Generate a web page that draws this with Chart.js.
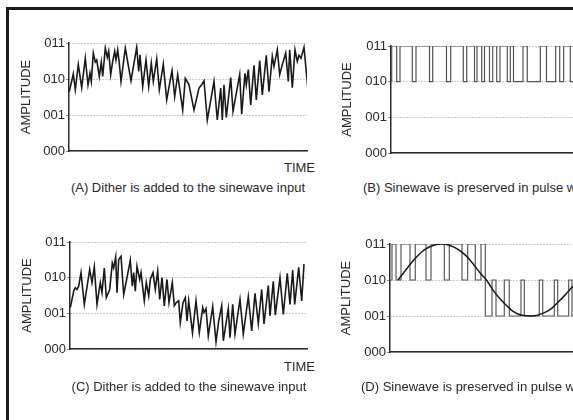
<!DOCTYPE html>
<html>
<head>
<meta charset="utf-8">
<script src="https://cdn.jsdelivr.net/npm/chart.js@4.4.0/dist/chart.umd.min.js"></script>
<style>
  html, body { margin: 0; padding: 0; width: 573px; height: 420px; overflow: hidden; background: #fff; }
  body { position: relative; font-family: "Liberation Sans", Arial, sans-serif; color: #2a2a2a; }
  .frame { position: absolute; left: 6px; top: 7px; width: 640px; height: 440px;
           border-top: 3px solid #1a1a1a; border-left: 3px solid #1a1a1a; }
  canvas { position: absolute; }
  .txt { position: absolute; font-size: 13px; line-height: 16px; white-space: nowrap; }
</style>
</head>
<body>
<div class="frame"></div>
<canvas id="chartA" style="left:0;top:20px" width="312" height="140"></canvas>
<canvas id="chartB" style="left:320px;top:20px" width="330" height="143"></canvas>
<canvas id="chartC" style="left:0;top:220px" width="312" height="140"></canvas>
<canvas id="chartD" style="left:320px;top:220px" width="330" height="143"></canvas>

<div class="txt" style="left:265px;top:160px;width:50px;text-align:right">TIME</div>
<div class="txt" style="left:265px;top:359px;width:50px;text-align:right">TIME</div>
<div class="txt" style="left:60px;top:180px;width:256px;text-align:center">(A) Dither is added to the sinewave input</div>
<div class="txt" style="left:363px;top:180px">(B) Sinewave is preserved in pulse width</div>
<div class="txt" style="left:61px;top:379px;width:256px;text-align:center">(C) Dither is added to the sinewave input</div>
<div class="txt" style="left:361px;top:379px">(D) Sinewave is preserved in pulse width</div>

<script>
// amplitude tick labels (binary codes)
var ampTicks = ['000', '001', '010', '011'];

// (A) dithered sinewave, time / amplitude
var ditherATime = [0.3, 4.3, 6.3, 9.3, 12.7, 16.3, 19, 21, 22.3, 24.3, 26.3, 27.7, 30.3, 32.3, 33.7,
    36.3, 38.3, 39.7, 41.7, 43.7, 45.7, 47, 48.7, 50.3, 52, 56.3, 62, 67.7, 69.7, 71, 73.7, 77,
    79.7, 82.3, 84.3, 87.7, 90.3, 94.3, 97.7, 103, 105.7, 108.7, 113.7, 116.3, 120, 125, 130,
    132.7, 135, 138.3, 145, 148.3, 151.7, 153.3, 155, 157.3, 161.7, 164, 170.7, 172.7, 176,
    177.3, 179.3, 181.7, 185, 187.3, 190.7, 193.3, 197.3, 200, 203.3, 205, 208.3, 210.7, 213.3,
    216.7, 219.3, 220.7, 223.3, 226, 228.3, 230, 232, 235, 238.7];
var ditherAAmp = [1.65, 2.14, 1.70, 2.40, 1.76, 2.58, 1.84, 2.16, 1.93, 2.72, 2.47, 2.53, 2.07, 2.47, 2.07,
    2.86, 2.60, 2.77, 2.12, 2.49, 2.77, 2.53, 2.81, 2.44, 1.93, 2.86, 1.95, 2.88, 2.21, 2.67, 1.79, 2.53,
    1.79, 2.44, 1.93, 2.56, 1.70, 2.41, 1.42, 2.23, 1.51, 2.12, 1.14, 2.02, 1.84, 1.14, 1.75,
    1.84, 1.95, 0.86, 1.93, 0.86, 1.75, 0.86, 1.84, 0.93, 2.04, 1.10, 2.12, 1.02, 2.16,
    1.84, 2.26, 1.28, 2.38, 1.42, 2.51, 1.56, 2.66, 1.65, 2.63, 2.35, 2.81, 2.12, 2.40,
    2.72, 1.93, 2.81, 1.76, 2.81, 2.49, 2.66, 2.58, 2.88, 1.79];

// (C) dithered sinewave, time / amplitude
var ditherCTime = [0.3, 3.7, 5.3, 7, 8.7, 11, 14.3, 19.7, 22, 24.3, 27, 30.3, 32, 34.3, 36.3, 39.7,
    42.3, 43.7, 45.7, 47, 48.7, 51, 53.7, 56.3, 60.3, 62.3, 63.7, 65.3, 67, 69.7, 71, 74.3, 76.3,
    78.7, 80.3, 83, 85.3, 87.7, 89.7, 92, 94.3, 97, 99, 102.3, 104.3, 106.3, 108.7, 110.3, 113,
    115.3, 117, 118.7, 122.5, 126, 129.3, 132.7, 134, 136, 138.3, 142.7, 146, 148.7, 151.7, 153.3,
    158.3, 160, 162.7, 165, 170, 173.3, 178.3, 181.7, 185, 188.3, 191.7, 194, 198.3, 200, 203.3,
    205.3, 210, 213.3, 217.3, 220, 222.7, 224.7, 228.7, 231.7, 234];
var ditherCAmp = [1.16, 1.62, 1.72, 1.67, 1.76, 2.14, 1.25, 2.23, 1.86, 2.30, 1.25, 1.86, 1.58, 2.27, 1.44, 1.67,
    2.41, 2.27, 2.58, 1.58, 2.51, 2.60, 1.53, 1.90, 2.49, 1.76, 2.14, 1.62, 2.32, 1.95, 2.14, 1.35, 1.86,
    1.49, 1.95, 2.14, 1.67, 2.18, 1.39, 2.00, 1.21, 1.95, 1.30, 1.86, 1.21, 1.30, 1.35, 0.74, 1.30,
    1.44, 0.79, 1.35, 0.45, 1.35, 0.46, 1.16, 1.02, 1.13, 0.37, 1.19, 0.20, 0.79, 1.21, 0.23,
    1.13, 0.32, 1.25, 0.42, 1.39, 0.42, 1.47, 0.51, 1.56, 0.72, 1.67, 0.70, 1.78, 0.93, 1.90,
    0.95, 2.00, 0.97, 2.12, 1.25, 2.21, 1.25, 2.29, 1.35, 2.38];

// (B) pulse width output: edge times and the level that starts there
var pwmBTime = [0, 0.7, 5.7, 9, 21.3, 25, 38.5, 41.7, 55.5, 59.7, 72.3, 75.7, 83.5, 86, 90.7, 93.5,
    98.5, 101.7, 105.7, 109, 116.3, 119.3, 122.5, 132, 136.3, 149.3, 155.5, 164.7, 168.7, 172.7,
    179.3, 186];
var pwmBLevel = [2, 3, 2, 3, 2, 3, 2, 3, 2, 3, 2, 3, 2, 3, 2, 3,
    2, 3, 2, 3, 2, 3, 2, 3, 2, 3, 2, 3, 2, 3,
    2, 2];

// (D) pulse width output and the recovered sinewave
var pwmDTime = [0, 2, 6, 11, 20, 25.3, 36, 41, 54.3, 59.3, 72, 77.7, 85.3, 91, 95.3, 102, 106,
    114.3, 119.3, 131, 134.3, 149.3, 152.7, 164.3, 167.7, 178.7, 182, 186];
var pwmDLevel = [2, 3, 2, 3, 2, 3, 2, 3, 2, 3, 2, 3, 2, 3, 1, 2, 1,
    2, 1, 2, 1, 2, 1, 2, 1, 2, 1, 1];
var sineDTime = [8, 15, 22, 28, 35, 43, 52, 60, 68, 77, 83, 90, 97, 103, 110, 117, 123, 132, 142,
    155, 162, 168, 175, 182, 186];
var sineDAmp = [2.0, 2.25, 2.5, 2.68, 2.85, 2.96, 3.0, 2.96, 2.85, 2.65, 2.45, 2.2, 1.98, 1.72, 1.48,
    1.28, 1.13, 1.02, 1.0, 1.1, 1.22, 1.38, 1.58, 1.8, 1.9];

var FONT = '"Liberation Sans", Arial, sans-serif';
var INK = '#2a2a2a';

function points(xs, ys) {
    return xs.map(function (x, i) { return { x: x, y: ys[i] }; });
}

function panelOptions(pad, axisWidth, xMax) {
    return {
        responsive: false,
        animation: false,
        layout: { padding: pad },
        plugins: { legend: { display: false }, tooltip: { enabled: false } },
        elements: { point: { radius: 0 } },
        scales: {
            x: {
                type: 'linear', min: 0, max: xMax,
                ticks: { display: false },
                grid: { display: false },
                border: { display: true, color: INK, width: 1.6 },
                afterFit: function (s) { s.height = 0; }
            },
            y: {
                min: 0, max: 3,
                afterFit: function (s) { s.width = axisWidth; },
                ticks: {
                    stepSize: 1, padding: 1, color: INK,
                    font: { family: FONT, size: 13 },
                    callback: function (v) { return ampTicks[v]; }
                },
                grid: { color: '#9a9a9a', lineWidth: 1, tickLength: 3, tickColor: '#888' },
                border: { color: INK, width: 1.5, dash: [1, 2] },
                title: {
                    display: true, text: 'AMPLITUDE', color: INK,
                    font: { family: FONT, size: 13 }, padding: { top: 4, bottom: 0 }
                }
            }
        }
    };
}

function ditherChart(id, xs, ys, pad, axisWidth, xMax) {
    return new Chart(document.getElementById(id), {
        type: 'line',
        data: {
            datasets: [{
                data: points(xs, ys),
                borderColor: '#1a1a1a', borderWidth: 1.6, tension: 0, fill: false
            }]
        },
        options: panelOptions(pad, axisWidth, xMax)
    });
}

ditherChart('chartA', ditherATime, ditherAAmp, { left: 15, top: 23, right: 5, bottom: 9 }, 54, 238);
ditherChart('chartC', ditherCTime, ditherCAmp, { left: 16, top: 22, right: 5, bottom: 11 }, 54, 237);

new Chart(document.getElementById('chartB'), {
    type: 'line',
    data: {
        datasets: [{
            data: points(pwmBTime, pwmBLevel),
            stepped: true, borderColor: '#555', borderWidth: 1.2, fill: false
        }]
    },
    options: panelOptions({ left: 16, top: 26, right: 19, bottom: 10 }, 55, 240)
});

new Chart(document.getElementById('chartD'), {
    type: 'line',
    data: {
        datasets: [{
            data: points(sineDTime, sineDAmp),
            borderColor: '#1a1a1a', borderWidth: 1.5, cubicInterpolationMode: 'monotone', fill: false
        }, {
            data: points(pwmDTime, pwmDLevel),
            stepped: true, borderColor: '#5a5a5a', borderWidth: 1.2, fill: false
        }]
    },
    options: panelOptions({ left: 15, top: 24, right: 20, bottom: 11 }, 55, 240)
});
</script>
</body>
</html>
